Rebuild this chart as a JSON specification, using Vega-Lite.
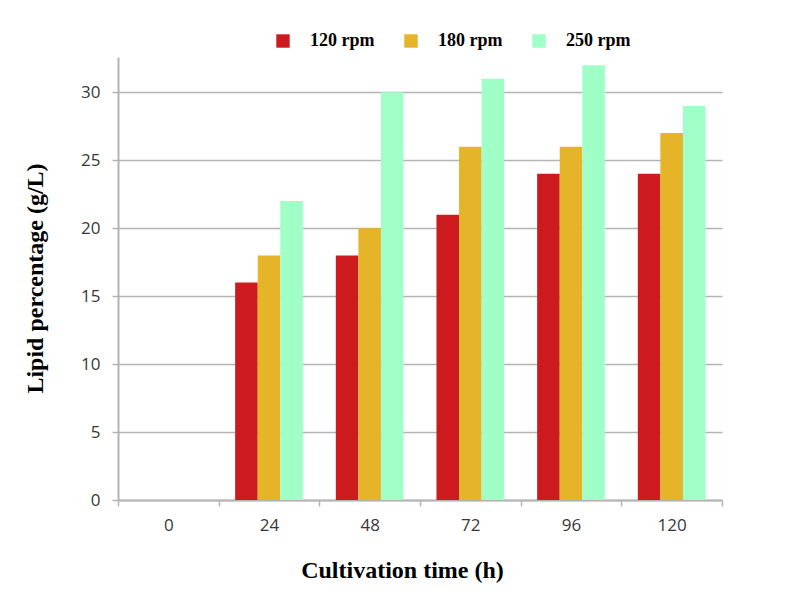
{
  "$schema": "https://vega.github.io/schema/vega-lite/v6.json",
  "width": 604,
  "height": 443,
  "autosize": "none",
  "padding": {"left": 118, "top": 57, "right": 66, "bottom": 108},
  "background": "white",
  "config": {"view": {"stroke": null}},
  "data": {
    "values": [
      {"time": "0", "speed": "120 rpm", "lipid": 0},
      {"time": "0", "speed": "180 rpm", "lipid": 0},
      {"time": "0", "speed": "250 rpm", "lipid": 0},
      {"time": "24", "speed": "120 rpm", "lipid": 16},
      {"time": "24", "speed": "180 rpm", "lipid": 18},
      {"time": "24", "speed": "250 rpm", "lipid": 22},
      {"time": "48", "speed": "120 rpm", "lipid": 18},
      {"time": "48", "speed": "180 rpm", "lipid": 20},
      {"time": "48", "speed": "250 rpm", "lipid": 30},
      {"time": "72", "speed": "120 rpm", "lipid": 21},
      {"time": "72", "speed": "180 rpm", "lipid": 26},
      {"time": "72", "speed": "250 rpm", "lipid": 31},
      {"time": "96", "speed": "120 rpm", "lipid": 24},
      {"time": "96", "speed": "180 rpm", "lipid": 26},
      {"time": "96", "speed": "250 rpm", "lipid": 32},
      {"time": "120", "speed": "120 rpm", "lipid": 24},
      {"time": "120", "speed": "180 rpm", "lipid": 27},
      {"time": "120", "speed": "250 rpm", "lipid": 29}
    ]
  },
  "mark": {"type": "bar"},
  "encoding": {
    "x": {
      "field": "time",
      "type": "nominal",
      "sort": ["0", "24", "48", "72", "96", "120"],
      "scale": {"domain": ["0", "24", "48", "72", "96", "120"], "paddingInner": 0, "paddingOuter": 0},
      "axis": {
        "title": "Cultivation time (h)",
        "titleFont": "Liberation Serif",
        "titleFontSize": 24,
        "titleFontWeight": "bold",
        "titleColor": "black",
        "titleX": 284,
        "titleY": 70,
        "titleBaseline": "middle",
        "titleAlign": "center",
        "labelAngle": 0,
        "labelFont": "Open Sans",
        "labelFontSize": 17,
        "labelColor": "#383838",
        "labelPadding": 11,
        "tickBand": "extent",
        "tickSize": 6,
        "tickColor": "#b4b4b4",
        "tickWidth": 1.5,
        "domainColor": "#b4b4b4",
        "domainWidth": 2,
        "grid": false
      }
    },
    "xOffset": {
      "field": "speed",
      "type": "nominal",
      "scale": {"paddingOuter": 0.73, "paddingInner": 0}
    },
    "y": {
      "field": "lipid",
      "type": "quantitative",
      "scale": {"domain": [0, 32.6], "nice": false},
      "axis": {
        "values": [0, 5, 10, 15, 20, 25, 30],
        "title": "Lipid percentage (g/L)",
        "titleFont": "Liberation Serif",
        "titleFontSize": 24,
        "titleFontWeight": "bold",
        "titleColor": "black",
        "titleX": -83,
        "titleY": 221,
        "titleAngle": -90,
        "titleBaseline": "middle",
        "titleAlign": "center",
        "labelFont": "Open Sans",
        "labelFontSize": 17,
        "labelColor": "#383838",
        "labelPadding": 12,
        "tickSize": 6,
        "tickColor": "#b4b4b4",
        "tickWidth": 1.5,
        "domainColor": "#b4b4b4",
        "domainWidth": 2,
        "gridColor": "#b4b4b4",
        "gridWidth": 1.5
      }
    },
    "color": {
      "field": "speed",
      "type": "nominal",
      "scale": {"domain": ["120 rpm", "180 rpm", "250 rpm"], "range": ["#cd1a1f", "#e6b428", "#9fffc6"]},
      "legend": {
        "title": null,
        "orient": "none",
        "legendX": 156,
        "legendY": -25,
        "direction": "horizontal",
        "symbolType": "square",
        "symbolSize": 180,
        "symbolStrokeWidth": 0,
        "labelFont": "Liberation Serif",
        "labelFontWeight": "bold",
        "labelFontSize": 18,
        "labelColor": "black",
        "labelOffset": 18,
        "columnPadding": 27,
        "padding": 0
      }
    }
  }
}
